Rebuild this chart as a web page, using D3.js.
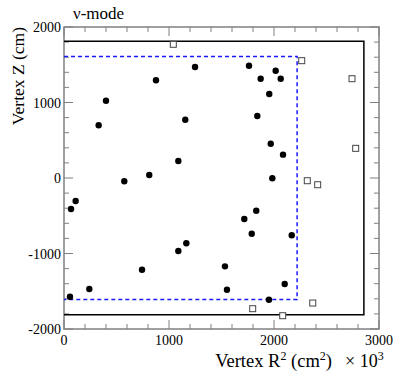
<!DOCTYPE html>
<html>
<head>
<meta charset="utf-8">
<script src="https://cdn.jsdelivr.net/npm/d3@7"></script>
<style>
  body { margin: 0; background: white; }
  text { font-family: "Liberation Serif", "DejaVu Serif", serif; fill: #000; }
</style>
</head>
<body>
<div id="container"></div>
<script>
// selected events (filled) : R^2 in 10^3 cm^2, Z in cm
const selR2 = [1248, 1762, 2016, 1873, 2064, 1955, 876, 400, 330, 1155, 1841, 1969, 2086, 1984, 574, 812,
  1089, 111, 67, 1717, 1831, 1788, 2169, 1165, 1089, 743, 1533, 241, 1552, 2102, 57, 1952]
const selZ = [1470, 1487, 1421, 1315, 1315, 1113, 1294, 1024, 698, 772, 821, 454, 309, -4, -44, 40,
  225, -305, -410, -543, -433, -738, -759, -864, -967, -1215, -1170, -1470, -1480, -1404, -1572, -1612]

// events outside fiducial volume (open squares)
const outR2 = [1041, 2264, 2743, 2778, 2317, 2416, 1797, 2083, 2369]
const outZ = [1771, 1554, 1315, 393, -36, -89, -1731, -1824, -1656]

// inner detector and fiducial volume boundaries
const idR2 = 2856, idZ = 1810
const fvR2 = 2220, fvZ = 1610

const xTicks = [0, 1000, 2000, 3000]
const yTicks = [-2000, -1000, 0, 1000, 2000]

const w = 399
const h = 384
const m = { left: 64, right: 20, top: 27, bottom: 55 }

const svg = d3.select('#container')
  .append('svg')
    .attr('width', w)
    .attr('height', h)

const x = d3.scaleLinear().domain([0, 3000]).range([m.left, w - m.right])
const y = d3.scaleLinear().domain([-2000, 2000]).range([h - m.bottom, m.top])

const frameColor = '#808080'

// ticks on all four sides, pointing inward
const minorX = d3.range(0, 3001, 200)
const minorY = d3.range(-2000, 2001, 200)
const isMajor = v => v % 1000 === 0

const axisG = svg.append('g').attr('stroke', frameColor).attr('stroke-width', 1)
minorX.forEach(v => {
  const len = isMajor(v) ? 9 : 5
  axisG.append('line').attr('x1', x(v)).attr('x2', x(v)).attr('y1', y(-2000)).attr('y2', y(-2000) - len)
  axisG.append('line').attr('x1', x(v)).attr('x2', x(v)).attr('y1', y(2000)).attr('y2', y(2000) + len)
})
minorY.forEach(v => {
  const len = isMajor(v) ? 9 : 5
  axisG.append('line').attr('y1', y(v)).attr('y2', y(v)).attr('x1', x(0)).attr('x2', x(0) + len)
  axisG.append('line').attr('y1', y(v)).attr('y2', y(v)).attr('x1', x(3000)).attr('x2', x(3000) - len)
})

svg.append('rect')
  .attr('x', x(0)).attr('y', y(2000))
  .attr('width', x(3000) - x(0)).attr('height', y(-2000) - y(2000))
  .attr('fill', 'none').attr('stroke', frameColor).attr('stroke-width', 1.5)

// tick labels
svg.append('g').selectAll('text')
  .data(xTicks)
  .enter()
  .append('text')
    .attr('x', d => x(d))
    .attr('y', y(-2000) + 16)
    .attr('text-anchor', 'middle')
    .attr('font-size', 14)
    .text(d => d)

svg.append('g').selectAll('text')
  .data(yTicks)
  .enter()
  .append('text')
    .attr('x', x(0) - 3)
    .attr('y', d => y(d) + 5)
    .attr('text-anchor', 'end')
    .attr('font-size', 14)
    .text(d => d)

// detector boundary
svg.append('path')
  .attr('d', `M${x(0)},${y(idZ)} H${x(idR2)} V${y(-idZ)} H${x(0)}`)
  .attr('fill', 'none')
  .attr('stroke', '#000')
  .attr('stroke-width', 1.5)

// fiducial volume
svg.append('path')
  .attr('d', `M${x(0)},${y(fvZ)} H${x(fvR2)} V${y(-fvZ)} H${x(0)}`)
  .attr('fill', 'none')
  .attr('stroke', '#1a1aff')
  .attr('stroke-width', 1.5)
  .attr('stroke-dasharray', '4,3')

// points
const sel = selR2.map((r, i) => [r, selZ[i]])
const out = outR2.map((r, i) => [r, outZ[i]])

svg.append('g').selectAll('circle')
  .data(sel)
  .enter()
  .append('circle')
    .attr('cx', d => x(d[0]))
    .attr('cy', d => y(d[1]))
    .attr('r', 3.2)
    .attr('fill', '#000')

svg.append('g').selectAll('rect')
  .data(out)
  .enter()
  .append('rect')
    .attr('x', d => x(d[0]) - 3)
    .attr('y', d => y(d[1]) - 3)
    .attr('width', 6)
    .attr('height', 6)
    .attr('fill', 'white')
    .attr('stroke', '#444')
    .attr('stroke-width', 1)

// titles
svg.append('text')
  .attr('x', 73).attr('y', 19)
  .attr('font-size', 17)
  .text('ν-mode')

const yl = svg.append('text')
  .attr('transform', `translate(24, ${m.top}) rotate(-90)`)
  .attr('text-anchor', 'end')
  .attr('font-size', 17.5)
yl.text('Vertex Z (cm)')

const xl = svg.append('text')
  .attr('x', 332).attr('y', 367)
  .attr('text-anchor', 'end')
  .attr('font-size', 18.5)
xl.append('tspan').text('Vertex R')
xl.append('tspan').attr('font-size', 12).attr('dy', -7).text('2')
xl.append('tspan').attr('dy', 7).text(' (cm')
xl.append('tspan').attr('font-size', 12).attr('dy', -7).text('2')
xl.append('tspan').attr('dy', 7).text(')')

const xm = svg.append('text')
  .attr('x', 345).attr('y', 367)
  .attr('font-size', 18)
xm.append('tspan').text('× 10')
xm.append('tspan').attr('font-size', 12).attr('dy', -7).text('3')
</script>
</body>
</html>
